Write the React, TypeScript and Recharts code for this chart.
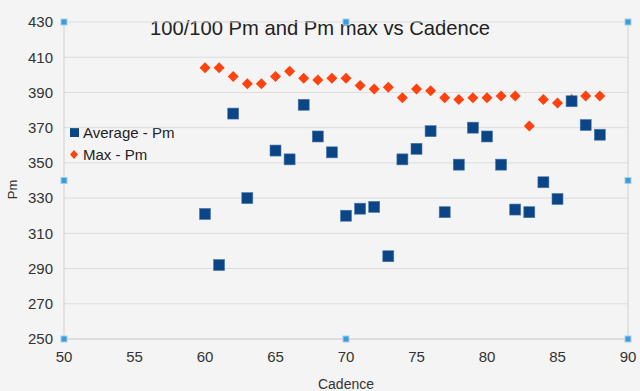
import React from 'react';
import { ScatterChart, Scatter, XAxis, YAxis, CartesianGrid, ReferenceLine, ReferenceDot } from 'recharts';

const cadenceAvg = [60, 61, 62, 63, 65, 66, 67, 68, 69, 70, 71, 72, 73, 74, 75, 76, 77, 78, 79, 80, 81, 82, 83, 84, 85, 86, 87, 88];
const averagePm = [321, 292, 378, 330, 357, 352, 383, 365, 356, 320, 324, 325, 297, 352, 358, 368, 322, 349, 370, 365, 349, 323.5, 322, 339, 329.5, 385, 371.5, 366];

const cadenceMax = [60, 61, 62, 63, 64, 65, 66, 67, 68, 69, 70, 71, 72, 73, 74, 75, 76, 77, 78, 79, 80, 81, 82, 83, 84, 85, 86, 87, 88];
const maxPm = [404, 404, 399, 395, 395, 399, 402, 398, 397, 398, 398, 394, 392, 393, 387, 392, 391, 387, 386, 387, 387, 388, 388, 371, 386, 384, 386, 388, 388];

const xTicks = [50, 55, 60, 65, 70, 75, 80, 85, 90];
const yTicks = [250, 270, 290, 310, 330, 350, 370, 390, 410, 430];

// selection handles around the chart frame
const handles = [
    { x: 50, y: 430 }, { x: 70, y: 430 }, { x: 90, y: 430 },
    { x: 50, y: 340 }, { x: 90, y: 340 },
    { x: 50, y: 250 }, { x: 70, y: 250 }, { x: 90, y: 250 },
];

const avgData = cadenceAvg.map((c, i) => ({ cadence: c, pm: averagePm[i] }));
const maxData = cadenceMax.map((c, i) => ({ cadence: c, pm: maxPm[i] }));

const BLUE = '#0b4586';
const RED = '#ff420e';
const FONT = '"Liberation Sans", Arial, sans-serif';

const SquareShape = (props: any) => {
    const { cx, cy } = props;
    if (cx == null || cy == null) return null;
    return <rect x={cx - 5.5} y={cy - 5.5} width={11} height={11} fill={BLUE} stroke="#4a79b0" strokeWidth={0.6} />;
};

const DiamondShape = (props: any) => {
    const { cx, cy } = props;
    if (cx == null || cy == null) return null;
    const r = 5.5;
    return <polygon points={`${cx},${cy - r} ${cx + r},${cy} ${cx},${cy + r} ${cx - r},${cy}`} fill={RED} />;
};

const HandleShape = (props: any) => {
    const { cx, cy } = props;
    return <rect x={cx - 3} y={cy - 3} width={6} height={6} fill="#3d9bd8" stroke="#9fd0ef" strokeWidth={1} />;
};

// y axis title, placed a little below the middle like the original
const PmLabel = (props: any) => {
    const { viewBox } = props;
    const x = viewBox.x + 17;
    const y = viewBox.y + viewBox.height / 2 + 9;
    return (
        <text x={x} y={y} transform={`rotate(-90 ${x} ${y})`} textAnchor="middle" fill="#333" fontSize={13} fontFamily={FONT}>
            Pm
        </text>
    );
};

const App: React.FC = () => {
    return (
        <div style={{ position: 'absolute', top: 0, left: 0, width: 640, height: 391, background: '#f4f4f4', fontFamily: FONT }}>
            <style>{'body{margin:0;}'}</style>
            <div style={{ position: 'absolute', top: 17, left: 0, width: 640, textAlign: 'center', fontSize: 20.2, color: '#222', pointerEvents: 'none' }}>
                100/100 Pm and Pm max vs Cadence
            </div>
            <div style={{ position: 'absolute', left: 69, top: 122, fontSize: 15, color: '#222', lineHeight: '22px' }}>
                <div style={{ display: 'flex', alignItems: 'center' }}>
                    <svg width={14} height={12}><rect x={1} y={1} width={9} height={9} fill={BLUE} /></svg>
                    <span>Average - Pm</span>
                </div>
                <div style={{ display: 'flex', alignItems: 'center' }}>
                    <svg width={14} height={12}><polygon points="5,1 9,5.5 5,10 1,5.5" fill={RED} /></svg>
                    <span>Max - Pm</span>
                </div>
            </div>
            <ScatterChart width={640} height={391} margin={{ top: 22, right: 12, bottom: 0, left: 0 }} style={{ position: 'absolute', top: 0, left: 0 }}>
                <CartesianGrid vertical={false} stroke="#dcdcdc" />
                <XAxis
                    type="number"
                    dataKey="cadence"
                    domain={[50, 90]}
                    ticks={xTicks}
                    tickLine={false}
                    tickMargin={6}
                    axisLine={{ stroke: '#d0d0d0' }}
                    tick={{ fill: '#333', fontSize: 15, fontFamily: FONT }}
                    height={52}
                    label={{ value: 'Cadence', position: 'insideBottom', offset: 2, fill: '#333', fontSize: 14, fontFamily: FONT }}
                />
                <YAxis
                    type="number"
                    dataKey="pm"
                    domain={[250, 430]}
                    ticks={yTicks}
                    tickLine={false}
                    tickMargin={5}
                    axisLine={{ stroke: '#d0d0d0' }}
                    tick={{ fill: '#333', fontSize: 15, fontFamily: FONT }}
                    width={64}
                    label={<PmLabel />}
                />
                <ReferenceLine x={90} stroke="#d0d0d0" />
                <Scatter name="Max - Pm" data={maxData} shape={<DiamondShape />} fill={RED} isAnimationActive={false} />
                <Scatter name="Average - Pm" data={avgData} shape={<SquareShape />} fill={BLUE} isAnimationActive={false} />
                {handles.map((h, i) => (
                    <ReferenceDot key={i} x={h.x} y={h.y} r={3} shape={<HandleShape />} ifOverflow="visible" />
                ))}
            </ScatterChart>
        </div>
    );
};

export default App;
